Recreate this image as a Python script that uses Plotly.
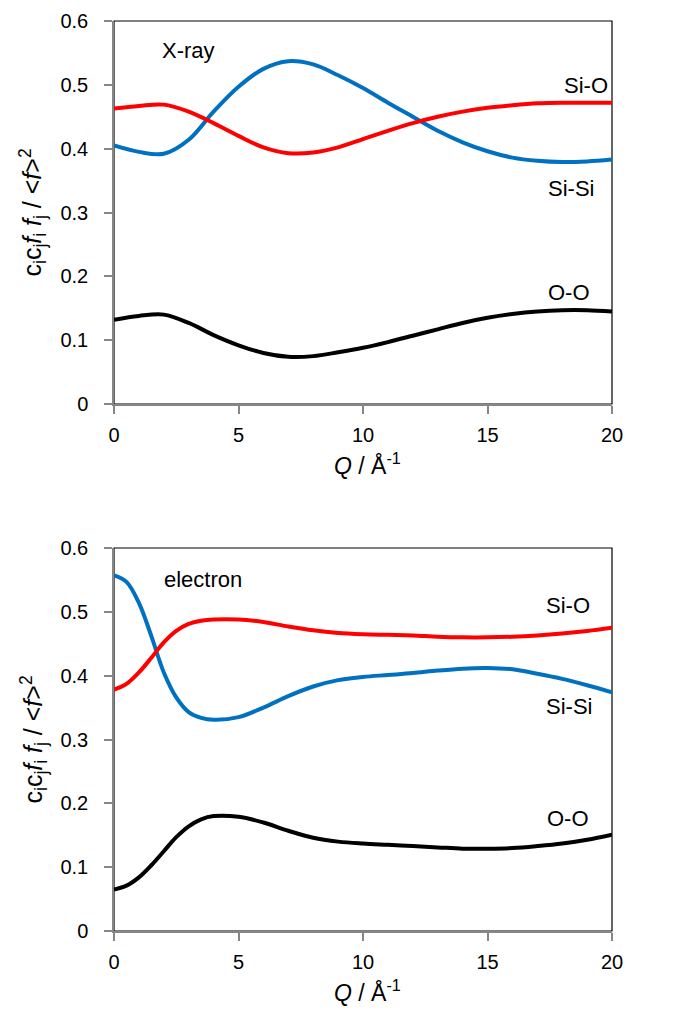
import plotly.graph_objects as go
from plotly.subplots import make_subplots

# ---------------- data ----------------
q_x = [0, 1, 2, 3, 4, 5, 6, 7, 8, 9, 10, 11, 12, 13, 14, 15, 16, 17, 18, 19, 20]
xray_sisi = [0.405, 0.395, 0.392, 0.414, 0.458, 0.497, 0.525, 0.537, 0.532, 0.515, 0.495,
             0.472, 0.450, 0.428, 0.410, 0.396, 0.386, 0.381, 0.379, 0.380, 0.383]
xray_sio = [0.463, 0.467, 0.469, 0.458, 0.440, 0.420, 0.402, 0.393, 0.394, 0.402, 0.415,
            0.428, 0.440, 0.450, 0.458, 0.464, 0.468, 0.471, 0.472, 0.472, 0.472]
xray_oo = [0.132, 0.138, 0.140, 0.127, 0.108, 0.092, 0.080, 0.074, 0.075, 0.081, 0.088,
           0.097, 0.107, 0.117, 0.127, 0.135, 0.141, 0.145, 0.147, 0.147, 0.145]

q_e = [0, 0.5, 1, 1.5, 2, 2.5, 3, 3.5, 4, 5, 6, 7, 8, 9, 10, 11, 12, 13, 14, 15, 16, 17, 18, 19, 20]
el_sisi = [0.557, 0.547, 0.514, 0.462, 0.405, 0.366, 0.343, 0.334, 0.331, 0.335, 0.350, 0.368,
           0.383, 0.393, 0.398, 0.401, 0.404, 0.408, 0.411, 0.412, 0.410, 0.403, 0.395, 0.385, 0.374]
el_sio = [0.378, 0.387, 0.405, 0.428, 0.452, 0.470, 0.481, 0.486, 0.488, 0.488, 0.484, 0.477,
          0.471, 0.467, 0.465, 0.464, 0.463, 0.461, 0.460, 0.460, 0.461, 0.463, 0.466, 0.470, 0.475]
el_oo = [0.065, 0.071, 0.084, 0.103, 0.125, 0.147, 0.164, 0.175, 0.180, 0.179, 0.170, 0.157,
         0.146, 0.140, 0.137, 0.135, 0.133, 0.131, 0.129, 0.129, 0.130, 0.133, 0.137, 0.143, 0.151]

x_ticks = [0, 5, 10, 15, 20]
y_ticks = [0, 0.1, 0.2, 0.3, 0.4, 0.5, 0.6]
y_tick_text = ["0", "0.1", "0.2", "0.3", "0.4", "0.5", "0.6"]

pair_names = ["Si-Si", "Si-O", "O-O"]
pair_colors = ["#0070C0", "#FF0000", "#000000"]

# ---------------- figure ----------------
PAGE_W, PAGE_H = 675, 1019
OFF = 8  # default body margin of the html page
W, H = PAGE_W - 2 * OFF, PAGE_H - 2 * OFF


def fx(px):
    return (px - OFF) / W


def fy(py):
    return 1 - (py - OFF) / H


fig = make_subplots(rows=2, cols=1)
FONT = "Liberation Sans, Arial, sans-serif"

panels = [
    (1, q_x, [xray_sisi, xray_sio, xray_oo]),
    (2, q_e, [el_sisi, el_sio, el_oo]),
]
for row, qq, series in panels:
    for name, col, vals in zip(pair_names, pair_colors, series):
        fig.add_trace(go.Scatter(x=qq, y=vals, mode="lines", name=name,
                                 line=dict(color=col, width=4, shape="spline", smoothing=1.0),
                                 showlegend=False), row=row, col=1)

xdom = [fx(114), fx(612)]
ydoms = {1: [fy(404), fy(21)], 2: [fy(931), fy(548)]}

for row in (1, 2):
    xa = "xaxis" if row == 1 else "xaxis2"
    ya = "yaxis" if row == 1 else "yaxis2"
    fig.layout[xa].update(domain=xdom, range=[0, 20], tickvals=x_ticks,
                          ticks="outside", ticklen=8, tickcolor="#868686", tickwidth=1.5,
                          showline=True, linecolor="#868686", linewidth=1.5,
                          showgrid=False, zeroline=False, automargin=False,
                          ticklabelstandoff=4,
                          tickfont=dict(family=FONT, size=20, color="#000"))
    fig.layout[ya].update(domain=ydoms[row], range=[0, 0.6], tickvals=y_ticks,
                          ticktext=y_tick_text,
                          ticks="outside", ticklen=8, tickcolor="#868686", tickwidth=1.5,
                          showline=True, linecolor="#868686", linewidth=1.5,
                          showgrid=False, zeroline=False, automargin=False,
                          ticklabelstandoff=12,
                          tickfont=dict(family=FONT, size=20, color="#000"))
    xr = "x domain" if row == 1 else "x2 domain"
    yr = "y domain" if row == 1 else "y2 domain"
    fig.add_shape(type="rect", xref=xr, yref=yr, x0=0, x1=1, y0=0, y1=1,
                  line=dict(color="#000", width=1.2), layer="below")

ytitle = ("c<sub>i</sub>c<sub>j</sub><i>f</i><sub>i</sub> <i>f</i><sub>j</sub> / "
          "&lt;<i>f</i>&gt;<sup>2</sup>")
xtitle = "<i>Q</i> / Å<sup>-1</sup>"

annots = []
for row, (top, bot) in {1: (21, 404), 2: (548, 931)}.items():
    annots.append(dict(xref="paper", yref="paper", x=fx(33), y=fy((top + bot) / 2),
                       text=ytitle, textangle=-90, showarrow=False,
                       xanchor="center", yanchor="middle",
                       font=dict(family=FONT, size=25, color="#000")))
    annots.append(dict(xref="paper", yref="paper", x=fx(368),
                       y=fy(bot + 60), text=xtitle, showarrow=False,
                       xanchor="center", yanchor="middle",
                       font=dict(family=FONT, size=23, color="#000")))


def lab(px, py, text):
    return dict(xref="paper", yref="paper", x=fx(px), y=fy(py), text=text,
                showarrow=False, xanchor="left", yanchor="middle",
                font=dict(family=FONT, size=22, color="#000"))


annots += [
    lab(160, 50, "X-ray"),
    lab(562, 86, "Si-O"),
    lab(546, 188, "Si-Si"),
    lab(546, 293, "O-O"),
    lab(162, 579, "electron"),
    lab(544, 605, "Si-O"),
    lab(544, 706, "Si-Si"),
    lab(545, 818, "O-O"),
]

fig.update_layout(width=W, height=H, margin=dict(l=0, r=0, t=0, b=0),
                  paper_bgcolor="white", plot_bgcolor="white",
                  annotations=annots, showlegend=False)

fig.write_html("out.html")
